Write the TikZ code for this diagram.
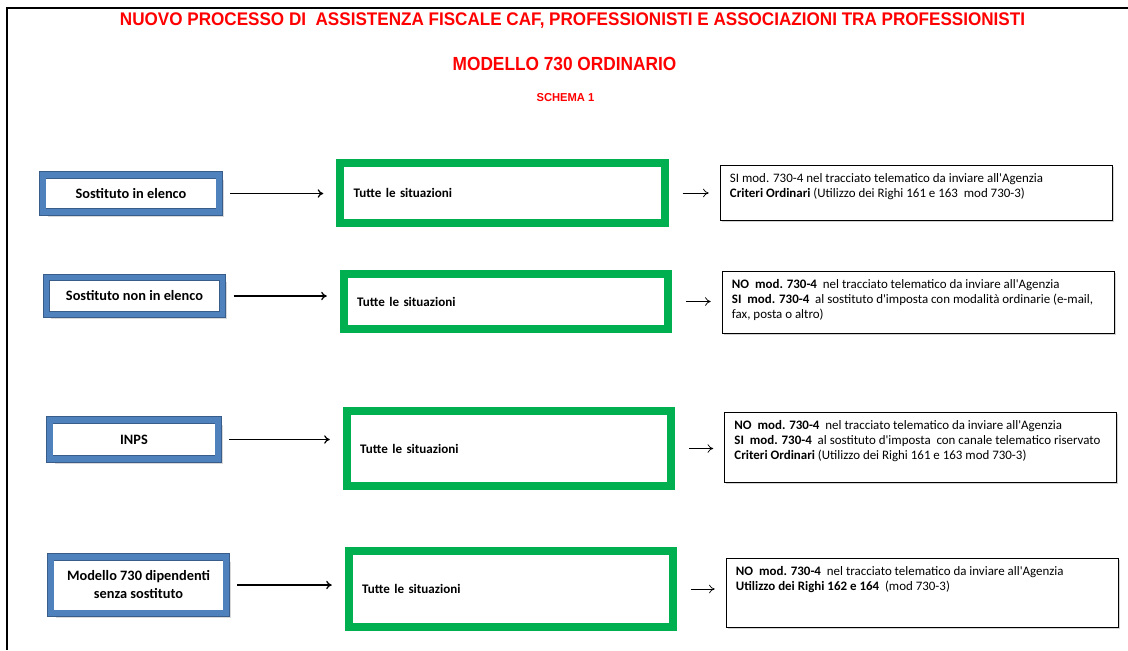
\documentclass[tikz,border=0pt]{standalone}
\usepackage{fontspec}
\setmainfont{Carlito}[Ligatures=TeXOff]
\newfontfamily\arialfont{Liberation Sans}
\usetikzlibrary{arrows.meta, positioning, shadows}

\definecolor{bandblue}{HTML}{4F81BD}
\definecolor{edgeblue}{HTML}{385D8A}
\definecolor{boxgreen}{HTML}{00B050}
\definecolor{titlered}{HTML}{FF0000}

% squeeze a title in x only
\newcommand{\narrowtext}[2]{\scalebox{#1}[1]{#2}}
% top aligned text of a result box
\newcommand{\infotext}[2]{\parbox[c][#1][t]{9.6cm}{\raggedright\leftskip=0.15cm\vspace{6pt}#2}}

\begin{document}
\begin{tikzpicture}[
    x=0.025cm, y=-0.025cm,
    >={To[length=4pt, width=6pt]},
    title_text/.style={text=titlered, font=\arialfont\bfseries},
    sourcebox/.style={draw=edgeblue, line width=0.5pt, double=bandblue, double distance=4pt,
        fill=white, align=center, font=\fontsize{10.2}{12.8}\selectfont\bfseries,
        drop shadow={shadow xshift=3.5pt, shadow yshift=-3.5pt, opacity=0.3}},
    casebox/.style={draw=boxgreen, line width=5.7pt, fill=white, align=left,
        text width=7.44cm, inner xsep=0.33cm, font=\fontsize{9.3}{11}\selectfont\bfseries},
    infobox/.style={draw=black, line width=0.6pt, fill=white, inner xsep=0.1cm, inner ysep=0pt,
        font=\fontsize{9.2}{10.7}\selectfont,
        drop shadow={shadow xshift=1.2pt, shadow yshift=-1.2pt, opacity=0.35}},
    long_arrow/.style={->, line width=0.9pt, shorten <=0.27cm, shorten >=0.33cm},
    short_arrow/.style={->, line width=0.5pt, shorten <=0.35cm, shorten >=0.27cm}
]
    \useasboundingbox (0,0) rectangle (1128,650);

    % === Frame ===
    \draw[line width=1.4pt] (7,650) -- (7,8) -- (1128,8);

    % === Titles ===
    \node[title_text, font=\arialfont\bfseries\fontsize{13}{15}\selectfont] (title) at (572.5,21)
        {\narrowtext{0.935}{NUOVO PROCESSO DI\ \ ASSISTENZA FISCALE CAF, PROFESSIONISTI E ASSOCIAZIONI TRA PROFESSIONISTI}};
    \node[title_text, font=\arialfont\bfseries\fontsize{13.5}{15}\selectfont] (model) at (564.5,64)
        {\narrowtext{0.91}{MODELLO 730 ORDINARIO}};
    \node[title_text, font=\arialfont\bfseries\fontsize{8.2}{10}\selectfont] (schema) at (565.5,98)
        {\narrowtext{0.97}{SCHEMA 1}};

    % === 1. Sostituto in elenco ===
    \node[sourcebox, minimum width=4.4cm, minimum height=0.925cm] (src1) at (131,193.5) {Sostituto in elenco};
    \node[casebox, minimum height=1.5cm] (case1) at (502.5,193) {Tutte le situazioni};
    \node[infobox, minimum width=9.75cm] (out1) at (916,192.5)
        {\infotext{1.375cm}{SI mod. 730-4 nel tracciato telematico da inviare all'Agenzia\\
        \textbf{Criteri Ordinari} (Utilizzo dei Righi 161 e 163\ \ mod 730-3)}};

    \draw[long_arrow] (src1.east) -- (src1.east -| case1.west);
    \draw[short_arrow] (case1.east) -- (case1.east -| out1.west);

    % === 2. Sostituto non in elenco ===
    \node[sourcebox, minimum width=4.4cm, minimum height=0.925cm] (src2) at (134.5,296) {Sostituto non in elenco};
    \node[casebox, minimum height=1.375cm] (case2) at (506,301.5) {Tutte le situazioni};
    \node[infobox, minimum width=9.8cm] (out2) at (918,302)
        {\infotext{1.55cm}{\textbf{NO\ \ mod. 730-4}\ \ nel tracciato telematico da inviare all'Agenzia\\
        \textbf{SI\ \ mod. 730-4}\ \ al sostituto d'imposta con modalità ordinarie (e-mail,\\
        fax, posta o altro)}};

    \draw[long_arrow] (src2.east) -- (src2.east -| case2.west);
    \draw[short_arrow] (case2.east) -- (case2.east -| out2.west);

    % === 3. INPS ===
    \node[sourcebox, minimum width=4.2cm, minimum height=0.975cm] (src3) at (134,439.5) {INPS};
    \node[casebox, minimum height=1.875cm] (case3) at (509,448.5) {Tutte le situazioni};
    \node[infobox, minimum width=9.8cm] (out3) at (920.5,447)
        {\infotext{1.75cm}{\textbf{NO\ \ mod. 730-4}\ \ nel tracciato telematico da inviare all'Agenzia\\
        \textbf{SI\ \ mod. 730-4}\ \ al sostituto d'imposta\ \ con canale telematico riservato\\
        \textbf{Criteri Ordinari} (Utilizzo dei Righi 161 e 163 mod 730-3)}};

    \draw[long_arrow] (src3.east) -- (src3.east -| case3.west);
    \draw[short_arrow] (case3.east) -- (case3.east -| out3.west);

    % === 4. Modello 730 dipendenti senza sostituto ===
    \node[sourcebox, minimum width=4.375cm, minimum height=1.4cm] (src4) at (138.5,585) {Modello 730 dipendenti\\senza sostituto};
    \node[casebox, minimum height=1.9cm] (case4) at (511,589) {Tutte le situazioni};
    \node[infobox, minimum width=9.7cm] (out4) at (922,592.5)
        {\infotext{1.725cm}{\textbf{NO\ \ mod. 730-4}\ \ nel tracciato telematico da inviare all'Agenzia\\
        \textbf{Utilizzo dei Righi 162 e 164}\ \ (mod 730-3)}};

    \draw[long_arrow] (src4.east) -- (src4.east -| case4.west);
    \draw[short_arrow] (case4.east) -- (case4.east -| out4.west);

\end{tikzpicture}
\end{document}
